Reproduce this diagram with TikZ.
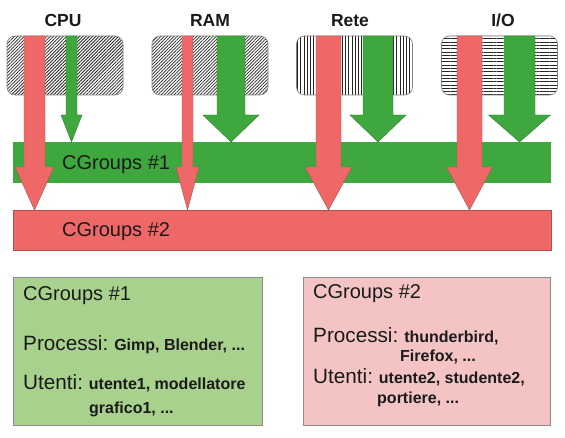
\documentclass[tikz,border=0pt]{standalone}
\usepackage{fontspec}
\setmainfont{Liberation Sans}
\usetikzlibrary{patterns.meta}
\definecolor{cgred}{HTML}{EE6868}
\definecolor{cggreen}{HTML}{3EA83E}
\definecolor{lightgreen}{HTML}{A9D18E}
\definecolor{lightpink}{HTML}{F4C4C4}
\definecolor{txt}{HTML}{1A1A1A}
\newcommand{\blockarr}[7]{%
  \filldraw[#1, draw=#1!75!black, line width=0.4pt]
    ({#2-#6},#3) -- ({#2+#6},#3) -- ({#2+#6},#4) -- ({#2+#7},#4) -- (#2,#5)
    -- ({#2-#7},#4) -- ({#2-#6},#4) -- cycle;}
\newcommand{\bigf}{\fontsize{20}{24}\selectfont}
\newcommand{\midf}{\fontsize{20.7}{24}\selectfont}
\newcommand{\smallb}{\fontsize{16}{19}\selectfont\bfseries}
\tikzset{
  resbox/.style={draw=black!50, line width=0.6pt, rounded corners=8pt, minimum width=116pt, minimum height=59pt, inner sep=0pt},
  reslabel/.style={anchor=base, inner sep=0pt, font=\fontsize{17.5}{20}\selectfont\bfseries, text=txt},
  barlabel/.style={anchor=base west, inner sep=0pt, font=\bigf, text=txt},
  boxtext/.style={anchor=base west, inner sep=0pt, text=txt},
  bar/.style={inner sep=0pt, anchor=north west},
}
\begin{document}
\begin{tikzpicture}[x=1pt,y=-1pt]
\fill[white] (0,0) rectangle (565,438);
\useasboundingbox (0,0) rectangle (565,438);
% resource labels
\node[reslabel] (lcpu) at (63,27) {CPU};
\node[reslabel] (lram) at (210,27) {RAM};
\node[reslabel] (lrete) at (350,27) {Rete};
\node[reslabel] (lio) at (503,27) {I/O};
% resource boxes
\node[resbox, pattern={Lines[angle=45,distance=2.3pt,line width=0.75pt]}, pattern color=black!85] (cpu) at (65,65.5) {};
\node[resbox, pattern={Lines[angle=45,distance=2.3pt,line width=0.75pt]}, pattern color=black!85] (ram) at (210,65.5) {};
\node[resbox, pattern={Lines[angle=90,distance=3.2pt,line width=0.75pt]}, pattern color=black!85] (rete) at (354.5,65.5) {};
\node[resbox, pattern={Lines[angle=0,distance=3.3pt,line width=0.75pt]}, pattern color=black!85] (io) at (499.5,65.5) {};
% bars
\node[bar, fill=cggreen, minimum width=538pt, minimum height=41pt] (g1) at (13,142) {};
\node[bar, fill=cgred, draw=cgred!75!black, line width=0.4pt, minimum width=538pt, minimum height=40pt] (r2) at (13,210) {};
\node[barlabel] (g1l) at (62,170) {CGroups \#1};
\node[barlabel] (r2l) at (62,237) {CGroups \#2};
% green arrows (to CGroups #1)
\blockarr{cggreen}{71.5}{36}{115}{142}{5.5}{10.5}
\blockarr{cggreen}{231}{36}{115}{142}{14}{28}
\blockarr{cggreen}{378}{36}{115}{142}{15}{28}
\blockarr{cggreen}{519.5}{36}{115}{142}{15.5}{31}
% red arrows (to CGroups #2)
\blockarr{cgred}{34.5}{36}{167}{210}{10.5}{19.5}
\blockarr{cgred}{187.5}{36}{167}{210}{5.5}{11.5}
\blockarr{cgred}{328.5}{36}{167}{210}{12.5}{23.5}
\blockarr{cgred}{469.5}{36}{167}{210}{12.5}{23}
% bottom boxes
\node[bar, fill=lightgreen, draw=black!45, line width=0.6pt, minimum width=249pt, minimum height=148pt] (box1) at (13,277) {};
\node[bar, fill=lightpink, draw=black!45, line width=0.6pt, minimum width=247pt, minimum height=148pt] (box2) at (303,277) {};
\node[boxtext, font=\bigf] (b1t) at (23,301) {CGroups \#1};
\node[boxtext] (b1p) at (23,351) {\midf Processi:\smallb{} Gimp, Blender, ...};
\node[boxtext] (b1u) at (23,389) {\midf Utenti:\smallb{} utente1, modellatore};
\node[boxtext, font=\smallb] (b1u2) at (89,413) {grafico1, ...};
\node[boxtext, font=\bigf] (b2t) at (313,299) {CGroups \#2};
\node[boxtext] (b2p) at (313,343) {\midf Processi:\smallb{} thunderbird,};
\node[boxtext, font=\smallb] (b2p2) at (400,362) {Firefox, ...};
\node[boxtext] (b2u) at (313,383) {\midf Utenti:\smallb{} utente2, studente2,};
\node[boxtext, font=\smallb] (b2u2) at (377,403) {portiere, ...};
\end{tikzpicture}
\end{document}
